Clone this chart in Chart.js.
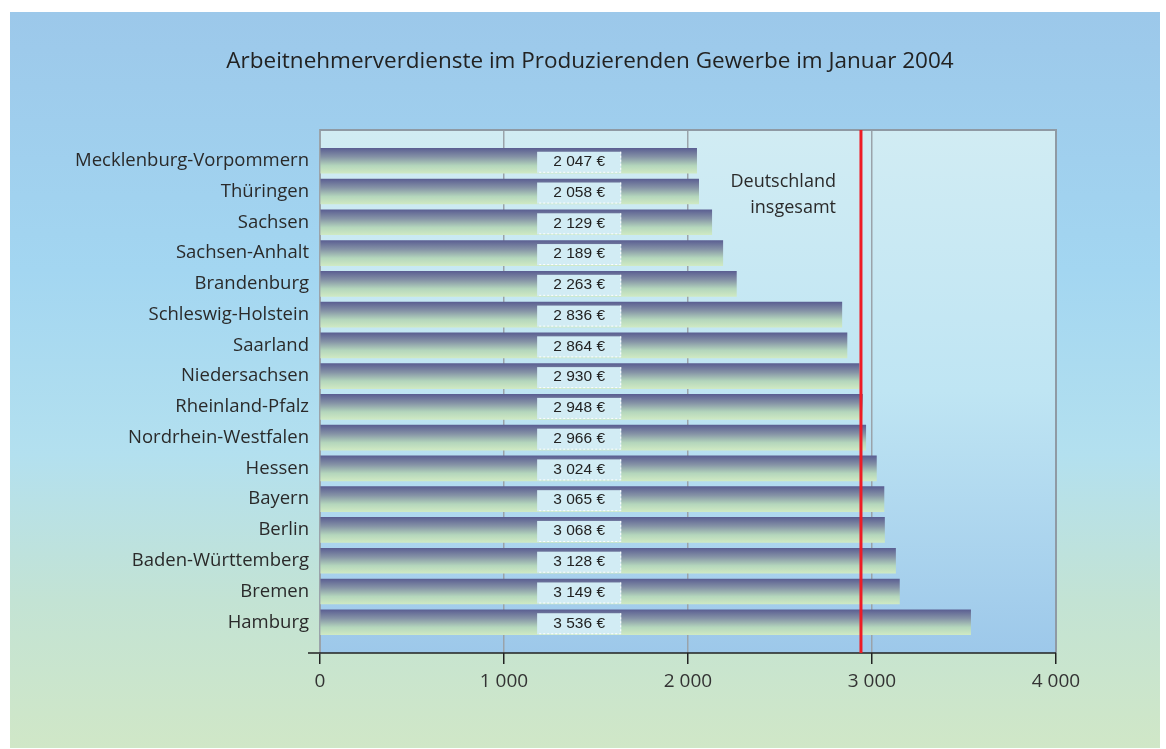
<!DOCTYPE html>
<html>
<head>
<meta charset="utf-8">
<script src="https://cdn.jsdelivr.net/npm/chart.js@4"></script>
<style>
  html, body { margin: 0; padding: 0; background: #fff; }
  #wrap { width: 1166px; height: 749px; }
</style>
</head>
<body>
<div id="wrap"><canvas id="chart" width="1166" height="749"></canvas></div>
<script>
const states = ['Mecklenburg-Vorpommern', 'Thüringen', 'Sachsen', 'Sachsen-Anhalt', 'Brandenburg',
  'Schleswig-Holstein', 'Saarland', 'Niedersachsen', 'Rheinland-Pfalz', 'Nordrhein-Westfalen',
  'Hessen', 'Bayern', 'Berlin', 'Baden-Württemberg', 'Bremen', 'Hamburg']
const earnings = [2047, 2058, 2129, 2189, 2263, 2836, 2864, 2930, 2948, 2966, 3024, 3065, 3068, 3128, 3149, 3536]
const germanyTotal = 2940
const xTicks = [0, 1000, 2000, 3000, 4000]
const titleText = 'Arbeitnehmerverdienste im Produzierenden Gewerbe im Januar 2004'
const totalLabel = ['Deutschland', 'insgesamt']

const fontFamily = '"Open Sans", "Noto Sans", sans-serif'

function formatNumber(v) {
  return String(v).replace(/\B(?=(\d{3})+(?!\d))/g, ' ')
}

// panel + plot area backgrounds, frame, title, reference line
const backgroundPlugin = {
  id: 'backgrounds',
  beforeDraw(chart) {
    const ctx = chart.ctx
    const area = chart.chartArea
    ctx.save()
    ctx.fillStyle = '#ffffff'
    ctx.fillRect(0, 0, chart.width, chart.height)
    const g = ctx.createLinearGradient(0, 12, 0, 748)
    g.addColorStop(0, '#9cc8ea')
    g.addColorStop(0.35, '#a3d6f1')
    g.addColorStop(0.6, '#b3e0ef')
    g.addColorStop(0.8, '#c3e3d4')
    g.addColorStop(1, '#d0e7c7')
    ctx.fillStyle = g
    ctx.fillRect(10, 12, 1150, 736)

    const pg = ctx.createLinearGradient(0, area.top, 0, area.bottom)
    pg.addColorStop(0, '#d1ecf3')
    pg.addColorStop(0.5, '#bfe5f3')
    pg.addColorStop(1, '#9dc8ea')
    ctx.fillStyle = pg
    ctx.fillRect(area.left, area.top, area.right - area.left, area.bottom - area.top)

    ctx.fillStyle = '#222'
    ctx.font = '22.5px ' + fontFamily
    ctx.textAlign = 'center'
    ctx.textBaseline = 'middle'
    ctx.fillText(titleText, 590, 62)
    ctx.restore()
  },
  afterDraw(chart) {
    const ctx = chart.ctx
    const area = chart.chartArea
    const x = chart.scales.x
    ctx.save()
    ctx.strokeStyle = '#8f9aa4'
    ctx.lineWidth = 2
    ctx.beginPath()
    ctx.moveTo(area.left, area.top)
    ctx.lineTo(area.right, area.top)
    ctx.lineTo(area.right, area.bottom)
    ctx.stroke()
    ctx.strokeStyle = '#222'
    ctx.lineWidth = 1.5
    ctx.beginPath()
    ctx.moveTo(area.left - 12, area.bottom)
    ctx.lineTo(area.right, area.bottom)
    ctx.stroke()
    const gx = x.getPixelForValue(germanyTotal)
    ctx.strokeStyle = '#ee1c25'
    ctx.lineWidth = 3
    ctx.beginPath()
    ctx.moveTo(gx, area.top)
    ctx.lineTo(gx, area.bottom)
    ctx.stroke()
    ctx.fillStyle = '#2a2a2a'
    ctx.font = '18px ' + fontFamily
    ctx.textAlign = 'right'
    ctx.textBaseline = 'middle'
    ctx.fillText(totalLabel[0], gx - 25, area.top + 52)
    ctx.fillText(totalLabel[1], gx - 25, area.top + 78)
    ctx.restore()
  },
  afterDatasetsDraw(chart) {
    const ctx = chart.ctx
    const x = chart.scales.x
    const y = chart.scales.y
    const x0 = x.getPixelForValue(1180)
    const x1 = x.getPixelForValue(1637)
    ctx.save()
    ctx.font = '15.5px "Liberation Sans", Arial, sans-serif'
    ctx.textAlign = 'center'
    ctx.textBaseline = 'middle'
    earnings.forEach((v, i) => {
      const cy = y.getPixelForValue(i) + 1
      ctx.fillStyle = '#d2ecf4'
      ctx.fillRect(x0, cy - 10, x1 - x0, 21)
      ctx.strokeStyle = '#ffffff'
      ctx.lineWidth = 1
      ctx.setLineDash([2, 2])
      ctx.beginPath()
      ctx.moveTo(x1 - 0.5, cy - 10)
      ctx.lineTo(x1 - 0.5, cy + 10.5)
      ctx.lineTo(x0, cy + 10.5)
      ctx.stroke()
      ctx.setLineDash([])
      ctx.fillStyle = '#222'
      ctx.fillText(formatNumber(v) + ' €', (x0 + x1) / 2, cy)
    })
    ctx.restore()
  }
}

function barGradient(context) {
  const chart = context.chart
  const y = chart.scales.y
  if (!y || !chart.chartArea) return '#8a9aa8'
  const cy = y.getPixelForValue(context.dataIndex)
  const g = chart.ctx.createLinearGradient(0, cy - 12.5, 0, cy + 12.5)
  g.addColorStop(0, '#5b5f92')
  g.addColorStop(0.35, '#8593a6')
  g.addColorStop(0.7, '#b4d6bc')
  g.addColorStop(1, '#cfe9c3')
  return g
}

new Chart(document.querySelector('#chart'), {
  type: 'bar',
  data: {
    datasets: [{
      data: earnings.map((v, i) => ({ x: v, y: i })),
      backgroundColor: barGradient,
      borderWidth: 0,
      barThickness: 25
    }]
  },
  plugins: [backgroundPlugin],
  options: {
    indexAxis: 'y',
    responsive: false,
    animation: false,
    layout: { padding: { left: 0, right: 110, top: 130, bottom: 0 } },
    scales: {
      x: {
        type: 'linear',
        min: 0,
        max: 4000,
        afterBuildTicks: (scale) => { scale.ticks = xTicks.map(v => ({ value: v })) },
        afterFit: (scale) => { scale.height = 96 },
        grid: {
          color: '#9aa3aa',
          lineWidth: 1.5,
          tickLength: 11,
          tickColor: '#222',
          tickWidth: 1.5
        },
        border: { display: false },
        ticks: {
          padding: 6,
          color: '#333',
          font: { size: 19, family: fontFamily },
          callback: (v) => formatNumber(v)
        }
      },
      y: {
        type: 'linear',
        reverse: true,
        offset: false,
        min: -1,
        max: 16,
        afterBuildTicks: (scale) => { scale.ticks = states.map((s, i) => ({ value: i })) },
        afterFit: (scale) => { scale.width = 320 },
        grid: { display: false, drawTicks: false, offset: false },
        border: { display: true, color: '#9aa3aa', width: 2 },
        ticks: {
          padding: 11,
          color: '#2a2a2a',
          font: { size: 18.5, family: fontFamily },
          callback: (v) => states[v] || ''
        }
      }
    },
    plugins: {
      legend: { display: false },
      tooltip: { enabled: false },
      title: { display: false }
    }
  }
})
</script>
</body>
</html>
